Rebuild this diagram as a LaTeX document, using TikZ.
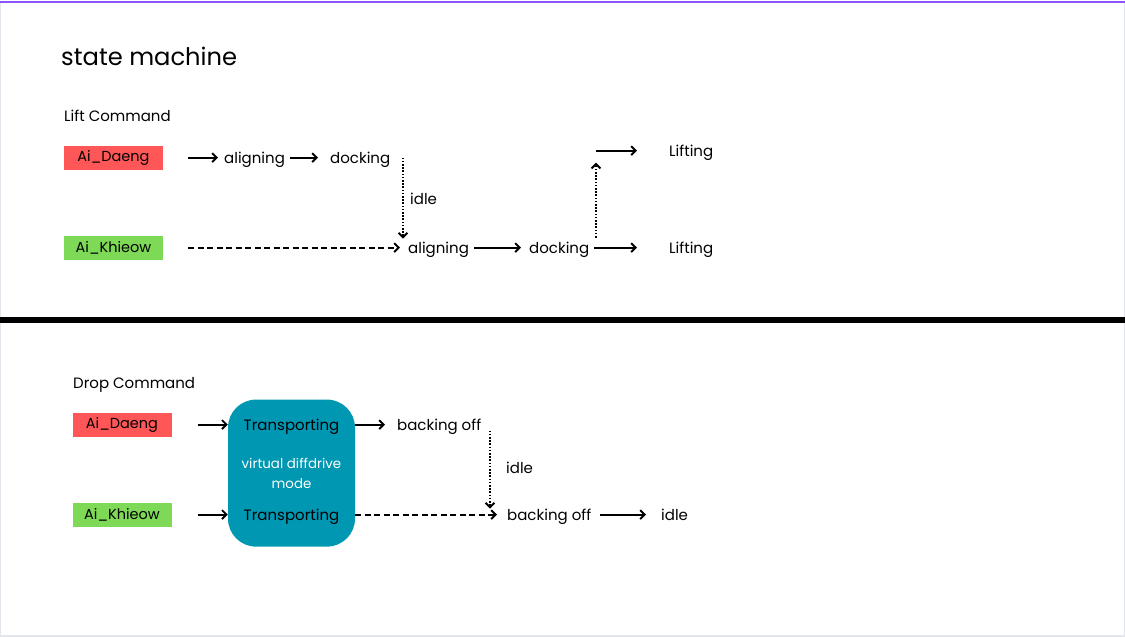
\documentclass[tikz,border=0pt]{standalone}
\usepackage{fontspec}
\setmainfont{Poppins}
\usetikzlibrary{arrows.meta}
\definecolor{cred}{HTML}{FF5757}
\definecolor{cgreen}{HTML}{7ED957}
\definecolor{cteal}{HTML}{0097B2}
\definecolor{cpurple}{HTML}{8C52FF}
\definecolor{cframe}{HTML}{E4E4EC}
\begin{document}
\begin{tikzpicture}[x=1pt,y=-1pt,
  font=\fontsize{15}{18}\selectfont,
  lbl/.style={inner sep=0pt, anchor=west, text height=14.5pt, text depth=3pt},
  tag/.style={inner sep=0pt, minimum width=99pt, minimum height=24pt, font=\fontsize{14.5}{17}\selectfont},
  arr/.style={line width=2.1pt, -{Straight Barb[length=4.5pt,width=9pt,line width=1.9pt]}},
  darr/.style={arr, dash pattern=on 6pt off 3.5pt},
  oarr/.style={arr, dash pattern=on 1.6pt off 1.6pt}]
\fill[white] (0,0) rectangle (1125,636);
\draw[cframe, line width=1.2pt] (0.6,0) -- (0.6,635.4) -- (1124.4,635.4) -- (1124.4,0);
\fill[cpurple] (0,0) rectangle (1125,2.2);
\fill[black] (0,316) rectangle (1125,322);

% ---------- Lift command
\node[lbl] (title) at (61,59) {\fontsize{24.2}{29}\selectfont state machine};
\node[lbl] (lift) at (64,115) {Lift Command};
\node[tag, fill=cred] (d1) at (113.5,157) {Ai\_Daeng};
\node[tag, fill=cgreen] (k1) at (113.5,247) {Ai\_Khieow};
\node[lbl] (al1) at (224,157) {aligning};
\node[lbl] (do1) at (330,157) {docking};
\node[lbl] (idle1) at (410,198) {idle};
\node[lbl] (al2) at (408,247) {aligning};
\node[lbl] (do2) at (529,247) {docking};
\node[lbl] (li2) at (669,247) {Lifting};
\node[lbl] (li1) at (669,150) {Lifting};
\coordinate (v1s) at (403,157);
\coordinate (v1e) at (403,238);
\coordinate (v2s) at (596,237);
\coordinate (v2e) at (596,162);
\coordinate (h2s) at (596,150);

\draw[arr, shorten <=25pt, shorten >=6pt] (d1) -- (al1);
\draw[arr, shorten <=5pt, shorten >=12pt] (al1) -- (do1);
\draw[oarr] (v1s) -- (v1e);
\draw[darr, shorten <=25pt, shorten >=8pt] (k1) -- (al2);
\draw[arr, shorten <=5pt, shorten >=8pt] (al2) -- (do2);
\draw[arr, shorten <=5pt, shorten >=32pt] (do2) -- (li2);
\draw[oarr] (v2s) -- (v2e);
\draw[arr, shorten >=32pt] (h2s) -- (li1);

% ---------- Drop command
\node[lbl] (drop) at (73,382) {Drop Command};
\node[tag, fill=cred] (d2) at (122,424) {Ai\_Daeng};
\node[tag, fill=cgreen] (k2) at (122,514) {Ai\_Khieow};
\node[fill=cteal, rounded corners=28pt, minimum width=127pt, minimum height=147pt, inner sep=0pt] (vb) at (291.5,472.5) {};
\node[inner sep=0pt, text height=14.5pt, text depth=3pt] (t1) at (291.5,424) {Transporting};
\node[inner sep=0pt, text height=14.5pt, text depth=3pt] (t2) at (291.5,514) {Transporting};
\node[inner sep=0pt, text=white, align=center, font=\fontsize{13.4}{19.5}\selectfont] (vm) at (291.5,473) {virtual diffdrive\\mode};
\node[lbl] (bo1) at (397,424) {backing off};
\node[lbl] (idle2) at (506,467) {idle};
\node[lbl] (bo2) at (507,514) {backing off};
\node[lbl] (idle3) at (661,514) {idle};
\coordinate (v3s) at (490,430);
\coordinate (v3e) at (490,508);

\draw[arr, shorten <=26pt] (d2.east) -- (d2.east -| vb.west);
\draw[arr, shorten <=26pt] (k2.east) -- (k2.east -| vb.west);
\draw[arr, shorten >=12pt] (t1 -| vb.east) -- (bo1);
\draw[darr, shorten >=10pt] (t2 -| vb.east) -- (bo2);
\draw[oarr] (v3s) -- (v3e);
\draw[arr, shorten <=9pt, shorten >=15pt] (bo2) -- (idle3);
\end{tikzpicture}
\end{document}
